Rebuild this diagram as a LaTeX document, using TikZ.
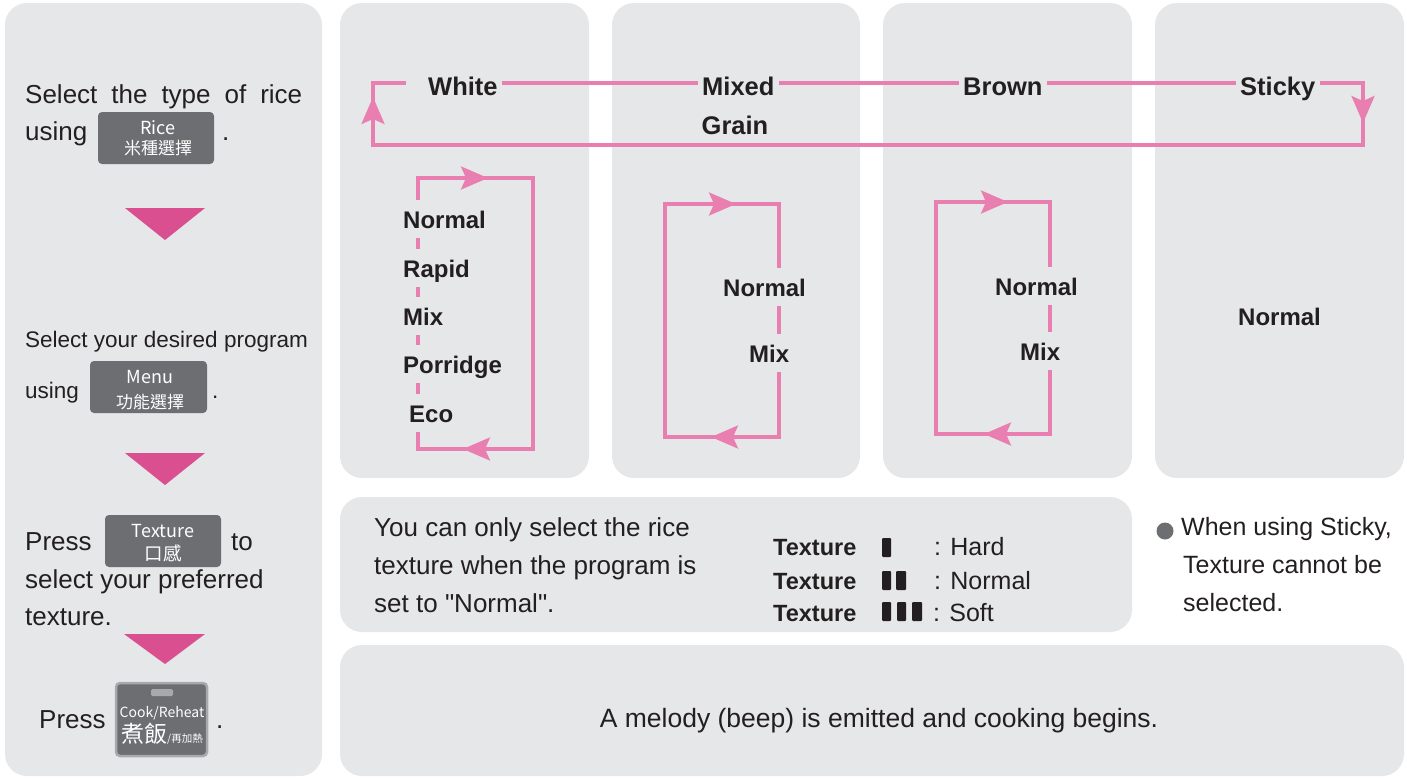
\documentclass[tikz,border=0pt]{standalone}
\usepackage{fontspec}
\setmainfont{Liberation Sans}
\newfontfamily\qfont{Liberation Sans}
\newfontfamily\cjk{Noto Sans CJK TC}
\usetikzlibrary{arrows.meta}
\definecolor{panel}{HTML}{E6E7E8}
\definecolor{btn}{HTML}{6D6E71}
\definecolor{btnedge}{HTML}{A7A9AC}
\definecolor{pinkline}{HTML}{E97FB1}
\definecolor{tri}{HTML}{D94F90}
\definecolor{ink}{HTML}{231F20}
\begin{document}
\begin{tikzpicture}[x=1pt,y=-1pt,
  panelbox/.style={fill=panel,rounded corners=22pt},
  txt/.style={inner sep=0pt,text=ink,anchor=base west,font=\fontsize{26}{31}\selectfont},
  smalltxt/.style={txt,font=\fontsize{22.5}{27}\selectfont},
  notetxt/.style={txt,font=\fontsize{25}{30}\selectfont},
  lbl/.style={inner ysep=0pt,inner xsep=4.5pt,text=ink,anchor=base west,font=\fontsize{25.5}{30}\selectfont\bfseries},
  ilbl/.style={inner xsep=0pt,inner ysep=10pt,text height=18pt,text depth=0pt,fill=panel,text=ink,anchor=base west,font=\fontsize{24}{28}\selectfont\bfseries},
  tlbl/.style={inner sep=0pt,text=ink,anchor=base west,font=\fontsize{23.5}{28}\selectfont\bfseries},
  pinkpath/.style={draw=pinkline,line width=3.2pt},
  pinktip/.style={pinkpath,-{Stealth[length=27pt,width=23pt,inset=5pt]}},
  btnbox/.style={fill=btn,rounded corners=4pt,inner sep=0pt},
  btnlat/.style={inner sep=0pt,text=white,anchor=base,font=\cjk\fontsize{18}{20}\selectfont},
  btncjk/.style={inner sep=0pt,text=white,anchor=base,font=\cjk\fontsize{17}{19}\selectfont},
  bar/.style={fill=ink,rounded corners=1pt},
  stepdown/.style={fill=tri}
]
\useasboundingbox (0,0) rectangle (1407,779);

% panels
\path[panelbox] (5,3) rectangle (322,776);
\path[panelbox] (340,3) rectangle (589,478);
\path[panelbox] (612,3) rectangle (860,478);
\path[panelbox] (883,3) rectangle (1132,478);
\path[panelbox] (1155,3) rectangle (1404,478);
\path[panelbox] (340,497) rectangle (1132,632);
\path[panelbox] (340,645) rectangle (1404,776);

% ---------- left column ----------
\node[txt] (s1a) at (25,103) {\makebox[277pt][s]{Select the type of rice}};
\node[txt] (s1b) at (25,140) {using};
\node[btnbox,minimum width=116pt,minimum height=52pt] (ricebtn) at (156,138) {};
\node[btnlat] (riceA) at (158,134) {Rice};
\node[btncjk] (riceB) at (158,154.5) {米種選擇};
\node[txt] (s1c) at (222,140) {.};
\path[stepdown] (125,208) -- (205,208) -- (165,240) -- cycle;

\node[smalltxt] (s2a) at (25,347) {Select your desired program};
\node[smalltxt] (s2b) at (25,398) {using};
\node[btnbox,minimum width=117pt,minimum height=52pt] (menubtn) at (148.5,387) {};
\node[btnlat] (menuA) at (150,383) {Menu};
\node[btncjk] (menuB) at (150,408.5) {功能選擇};
\node[smalltxt] (s2c) at (212,398) {.};
\path[stepdown] (125,453) -- (205,453) -- (165,485) -- cycle;

\node[txt] (s3a) at (25,550) {Press};
\node[btnbox,minimum width=116pt,minimum height=52pt] (texbtn) at (163,541) {};
\node[btnlat] (texA) at (163,537) {Texture};
\node[btncjk,font=\cjk\fontsize{18.5}{20}\selectfont] (texB) at (163,560) {口感};
\node[txt] (s3b) at (231,550) {to};
\node[txt] (s3c) at (25,588) {select your preferred};
\node[txt] (s3d) at (25,625) {texture.};
\path[stepdown] (124,634) -- (205,634) -- (165,664) -- cycle;

\node[txt] (s4a) at (39,728) {Press};
\node[btnbox,draw=btnedge,line width=2.5pt,minimum width=91pt,minimum height=73pt] (cookbtn) at (161.5,719.5) {};
\path[fill=btnedge,rounded corners=1.5pt] (151,689) rectangle (173,696);
\node[btnlat,font=\cjk\fontsize{14}{16}\selectfont] (cookA) at (162,717) {Cook/Reheat};
\node[btnlat,font=\cjk\fontsize{23}{25}\selectfont] (cookB) at (162,742) {煮飯{\fontsize{10.5}{12}\selectfont/再加熱}};
\node[txt] (s4b) at (216,728) {.};

% ---------- top loop ----------
\coordinate (tl) at (373,83);
\coordinate (bl) at (373,145);
\coordinate (tr) at (1363,83);
\coordinate (br) at (1363,145);
\coordinate (stub) at (406,83);
\node[lbl] (white) at (423.5,95) {White};
\node[lbl] (mixed) at (697.5,95) {Mixed};
\node[lbl,anchor=base] (grain) at (735,134) {Grain};
\node[lbl] (brown) at (958.5,95) {Brown};
\node[lbl] (sticky) at (1235.5,95) {Sticky};
\draw[pinkpath] (white.east |- tl) -- (mixed.west |- tl);
\draw[pinkpath] (mixed.east |- tl) -- (brown.west |- tl);
\draw[pinkpath] (brown.east |- tl) -- (sticky.west |- tl);
\draw[pinkpath] (sticky.east |- tl) -- (tr) -- (br) -- (bl) -- (tl) -- (stub);
\coordinate (upA) at (373,124);
\coordinate (upB) at (373,97);
\coordinate (dnA) at (1363,98);
\coordinate (dnB) at (1363,123);
\draw[pinktip] (upA) -- (upB);
\draw[pinktip] (dnA) -- (dnB);

% ---------- White loop ----------
\coordinate (w1) at (418,178);
\coordinate (w2) at (533,178);
\coordinate (w3) at (533,449);
\coordinate (w4) at (418,449);
\draw[pinkpath] (w1) -- (w2) -- (w3) -- (w4) -- cycle;
\coordinate (wa1) at (460,178); \coordinate (wa2) at (488,178);
\coordinate (wb1) at (490,449); \coordinate (wb2) at (463,449);
\draw[pinktip] (wa1) -- (wa2);
\draw[pinktip] (wb1) -- (wb2);
\node[ilbl] (wN) at (403,228) {Normal};
\node[ilbl] (wR) at (403,277) {Rapid};
\node[ilbl] (wM) at (403,325) {Mix};
\node[ilbl] (wP) at (403,373) {Porridge};
\node[ilbl] (wE) at (409,422) {Eco};

% ---------- Mixed loop ----------
\coordinate (m1) at (665,204);
\coordinate (m2) at (779,204);
\coordinate (m3) at (779,437);
\coordinate (m4) at (665,437);
\draw[pinkpath] (m1) -- (m2) -- (m3) -- (m4) -- cycle;
\coordinate (ma1) at (708,204); \coordinate (ma2) at (736,204);
\coordinate (mb1) at (739,437); \coordinate (mb2) at (711,437);
\draw[pinktip] (ma1) -- (ma2);
\draw[pinktip] (mb1) -- (mb2);
\node[ilbl] (mN) at (723,296) {Normal};
\node[ilbl] (mM) at (749,362) {Mix};

% ---------- Brown loop ----------
\coordinate (b1) at (936,202);
\coordinate (b2) at (1050,202);
\coordinate (b3) at (1050,434);
\coordinate (b4) at (936,434);
\draw[pinkpath] (b1) -- (b2) -- (b3) -- (b4) -- cycle;
\coordinate (ba1) at (980,202); \coordinate (ba2) at (1008,202);
\coordinate (bb1) at (1012,434); \coordinate (bb2) at (984,434);
\draw[pinktip] (ba1) -- (ba2);
\draw[pinktip] (bb1) -- (bb2);
\node[ilbl] (bN) at (995,295) {Normal};
\node[ilbl] (bM) at (1020,360) {Mix};

% ---------- Sticky ----------
\node[ilbl] (sN) at (1238,325) {Normal};

% ---------- middle panel ----------
\node[txt] (m1t) at (374,536) {You can only select the rice};
\node[txt] (m2t) at (374,574) {texture when the program is};
\node[txt] (m3t) at (374,612) {set to {\qfont"}Normal{\qfont"}.};

\node[tlbl] (t1) at (773,555) {Texture};
\node[tlbl] (t2) at (773,589) {Texture};
\node[tlbl] (t3) at (773,621) {Texture};
\path[bar] (882,538) rectangle (891,557);
\path[bar] (882,571) rectangle (891,590);
\path[bar] (896,571) rectangle (906,590);
\path[bar] (882,602) rectangle (891,621);
\path[bar] (897,602) rectangle (906,621);
\path[bar] (912,602) rectangle (922,621);
\node[notetxt] (h1) at (934,555) {: Hard};
\node[notetxt] (h2) at (934,589) {: Normal};
\node[notetxt] (h3) at (933,621) {: Soft};

% ---------- note ----------
\fill[btn] (1165,531) circle (8.5);
\node[notetxt] (n1) at (1181,535) {When using Sticky,};
\node[notetxt] (n2) at (1183,573) {Texture cannot be};
\node[notetxt] (n3) at (1183,611) {selected.};

% ---------- bottom ----------
\node[notetxt,anchor=base,font=\fontsize{26.5}{31}\selectfont] (bottom) at (879,727) {A melody (beep) is emitted and cooking begins.};
\end{tikzpicture}
\end{document}
